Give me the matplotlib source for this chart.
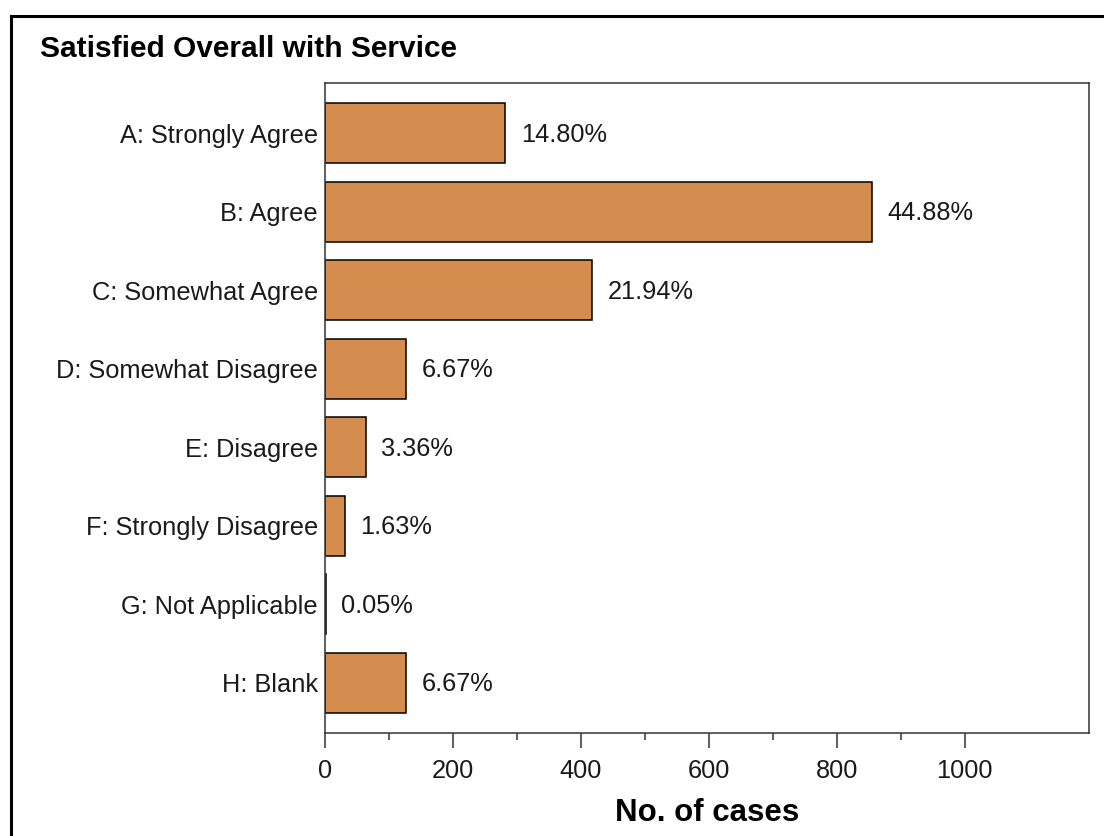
import numpy as np
import matplotlib
matplotlib.use('Agg')
import matplotlib.pyplot as plt
from matplotlib.lines import Line2D
from matplotlib.ticker import FixedLocator

plt.rcParams['font.family'] = ['Liberation Sans', 'DejaVu Sans']

# Data
categories = ['A: Strongly Agree', 'B: Agree', 'C: Somewhat Agree', 'D: Somewhat Disagree',
              'E: Disagree', 'F: Strongly Disagree', 'G: Not Applicable', 'H: Blank']
counts = [282, 855, 418, 127, 64, 31, 1, 127]
x_ticks = [0, 200, 400, 600, 800, 1000]
x_minor_ticks = [100, 300, 500, 700, 900]

title = 'Satisfied Overall with Service'
xlabel = 'No. of cases'

BAR_COLOR = '#D48D4F'
FRAME_COLOR = '#333333'
TEXT_COLOR = '#1a1a1a'
W, H = 1104, 836


def percent_labels(values: list) -> list:
    """Format each count as a share of the total."""
    total = float(np.sum(values))
    return [f'{100.0 * v / total:.2f}%' for v in values]


def draw_frame(fig: plt.Figure) -> None:
    """Outer black border (left and top edges visible in the reference)."""
    x0 = 11 / W
    y0 = 1 - 16 / H
    fig.add_artist(Line2D([x0, x0], [-0.01, y0], transform=fig.transFigure, color='black', lw=2.2))
    fig.add_artist(Line2D([x0, 1.01], [y0, y0], transform=fig.transFigure, color='black', lw=2.2))


fig = plt.figure(figsize=(W / 100, H / 100), dpi=100)
ax = fig.add_axes([325 / W, 1 - 733 / H, (1089 - 325) / W, (733 - 83) / H])

y = np.arange(len(categories))
bars = ax.barh(y, counts, height=0.765, color=BAR_COLOR, edgecolor='black', linewidth=1.1)

for rect, lab in zip(bars, percent_labels(counts)):
    ax.annotate(lab, xy=(rect.get_width(), rect.get_y() + rect.get_height() / 2),
                xytext=(11, -1), textcoords='offset points', ha='left', va='center',
                fontsize=18.3, color=TEXT_COLOR)

ax.set_xlim(0, 1194)
ax.set_ylim(len(categories) - 1 + 0.64, -0.64)
ax.set_yticks(y)
ax.set_yticklabels(categories)
ax.xaxis.set_major_locator(FixedLocator(x_ticks))
ax.xaxis.set_minor_locator(FixedLocator(x_minor_ticks))

ax.tick_params(axis='y', length=0, pad=5, labelsize=18.3, labelcolor=TEXT_COLOR)
ax.tick_params(axis='x', which='major', length=11, width=1.1, color=FRAME_COLOR,
               pad=7.5, labelsize=18.3, labelcolor=TEXT_COLOR, direction='out')
ax.tick_params(axis='x', which='minor', length=5, width=1.1, color=FRAME_COLOR, direction='out')

for spine in ax.spines.values():
    spine.set_color(FRAME_COLOR)
    spine.set_linewidth(1.1)

ax.set_xlabel(xlabel, fontsize=22.5, fontweight='bold')
ax.xaxis.label.set_va('center')
ax.xaxis.set_label_coords(0.5, -(813 - 733) / (733 - 83))

fig.text(40 / W, 1 - 49 / H, title, ha='left', va='center', fontsize=21.5, fontweight='bold')

draw_frame(fig)

fig.savefig('out.png', dpi=100)
